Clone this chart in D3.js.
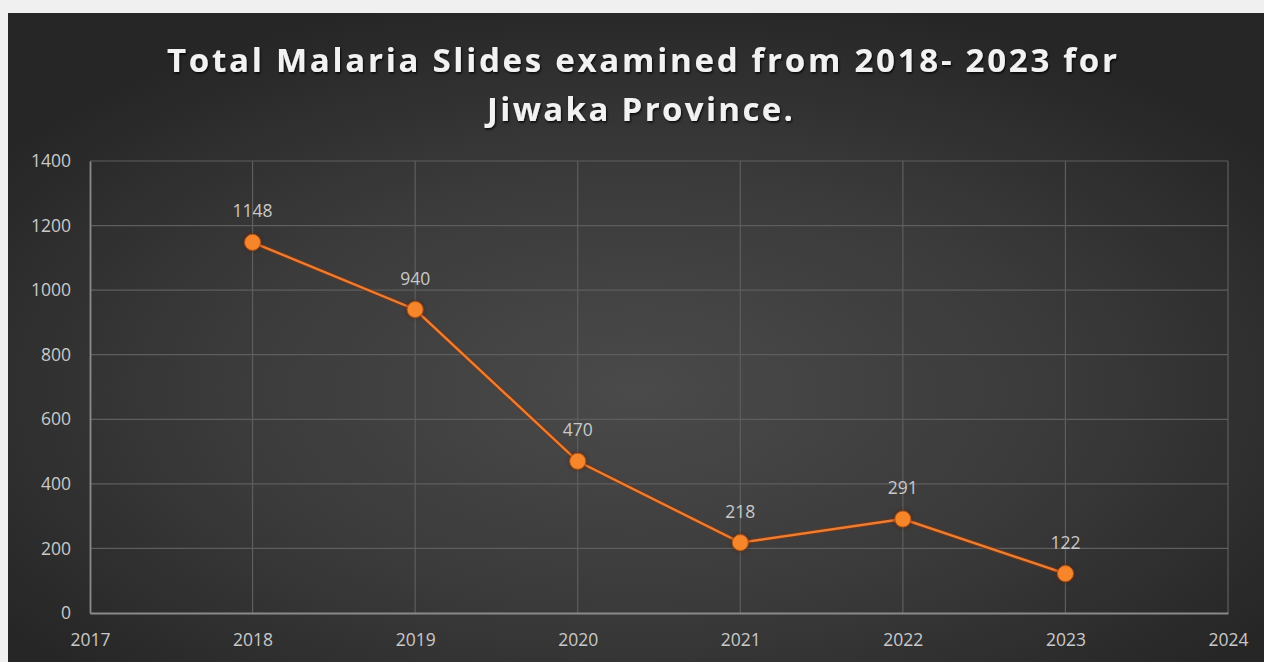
<!DOCTYPE html>
<html>
<head>
<meta charset="utf-8">
<script src="https://cdn.jsdelivr.net/npm/d3@7"></script>
<style>
  html, body { margin: 0; padding: 0; background: #f0f0f0; overflow: hidden; }
  svg { display: block; }
</style>
</head>
<body>
<svg id="chart" width="1264" height="662"></svg>
<script>
// Malaria slides examined per year, Jiwaka Province
const years = [2018, 2019, 2020, 2021, 2022, 2023];
const slides = [1148, 940, 470, 218, 291, 122];
const xTicks = [2017, 2018, 2019, 2020, 2021, 2022, 2023, 2024];
const yTicks = [0, 200, 400, 600, 800, 1000, 1200, 1400];
const titleLines = ["Total Malaria Slides examined from 2018- 2023 for", "Jiwaka Province."];

const W = 1264, H = 662;
const svg = d3.select("#chart");
const defs = svg.append("defs");

// dark panel with soft radial lighting
const grad = defs.append("radialGradient")
  .attr("id", "panelGrad")
  .attr("cx", "50%").attr("cy", "58%").attr("r", "62%");
grad.append("stop").attr("offset", "0%").attr("stop-color", "#4a4a4a");
grad.append("stop").attr("offset", "55%").attr("stop-color", "#3a3a3a");
grad.append("stop").attr("offset", "100%").attr("stop-color", "#262626");

const shadow = defs.append("filter").attr("id", "txtShadow")
  .attr("x", "-5%").attr("y", "-20%").attr("width", "110%").attr("height", "150%");
shadow.append("feDropShadow").attr("dx", 1).attr("dy", 1.5)
  .attr("stdDeviation", 1.2).attr("flood-color", "#000").attr("flood-opacity", 0.85);

const glow = defs.append("filter").attr("id", "dotGlow")
  .attr("x", "-60%").attr("y", "-60%").attr("width", "220%").attr("height", "220%");
glow.append("feDropShadow").attr("dx", 0).attr("dy", 0)
  .attr("stdDeviation", 2).attr("flood-color", "#5a1e00").attr("flood-opacity", 0.9);

svg.append("rect").attr("x", 0).attr("y", 0).attr("width", W).attr("height", H).attr("fill", "#f0f0f0");
svg.append("rect").attr("x", 8).attr("y", 13).attr("width", W - 8).attr("height", H - 13)
  .attr("fill", "url(#panelGrad)");

// title
const title = svg.append("g").attr("filter", "url(#txtShadow)");
title.append("text")
  .attr("x", 642).attr("y", 72)
  .attr("text-anchor", "middle")
  .attr("font-family", "'Open Sans', sans-serif")
  .attr("font-weight", 700).attr("font-size", 33)
  .attr("fill", "#f2f2f2")
  .attr("textLength", 950).attr("lengthAdjust", "spacing")
  .text(titleLines[0]);
title.append("text")
  .attr("x", 640).attr("y", 121)
  .attr("text-anchor", "middle")
  .attr("font-family", "'Open Sans', sans-serif")
  .attr("font-weight", 700).attr("font-size", 33)
  .attr("fill", "#f2f2f2")
  .attr("textLength", 306).attr("lengthAdjust", "spacing")
  .text(titleLines[1]);

// plot area
const plotL = 90, plotR = 1228, plotT = 161, plotB = 613;
const x = d3.scaleLinear().domain([2017, 2024]).range([plotL, plotR]);
const y = d3.scaleLinear().domain([0, 1400]).range([plotB, plotT]);

// gridlines
const grid = svg.append("g");
grid.selectAll("line.h").data(yTicks.filter(d => d > 0)).join("line")
  .attr("class", "h")
  .attr("x1", plotL).attr("x2", plotR)
  .attr("y1", d => y(d)).attr("y2", d => y(d))
  .attr("stroke", "#5e5e5e").attr("stroke-width", 1.2);
grid.selectAll("line.v").data(xTicks.filter(d => d > 2017)).join("line")
  .attr("class", "v")
  .attr("x1", d => x(d)).attr("x2", d => x(d))
  .attr("y1", plotT).attr("y2", plotB)
  .attr("stroke", "#5e5e5e").attr("stroke-width", 1.2);

// axes
const yAxis = svg.append("g").attr("transform", `translate(${plotL},0)`)
  .call(d3.axisLeft(y).tickValues(yTicks).tickSize(0).tickPadding(19).tickFormat(d3.format("d")));
const xAxis = svg.append("g").attr("transform", `translate(0,${plotB})`)
  .call(d3.axisBottom(x).tickValues(xTicks).tickSize(0).tickPadding(21).tickFormat(d3.format("d")));
[xAxis, yAxis].forEach(g => {
  g.select(".domain").attr("stroke", "#8a8a8a").attr("stroke-width", 1.8);
  g.selectAll("text")
    .attr("font-family", "'Open Sans', sans-serif")
    .attr("font-size", 17.5)
    .attr("fill", "#c9c9c9");
});

// series line
const data = years.map((yr, i) => ({ year: yr, value: slides[i] }));
const line = d3.line().x(d => x(d.year)).y(d => y(d.value));
svg.append("path").datum(data)
  .attr("d", line)
  .attr("fill", "none")
  .attr("stroke", "#7a3310").attr("stroke-width", 5).attr("stroke-opacity", 0.6);
svg.append("path").datum(data)
  .attr("d", line)
  .attr("fill", "none")
  .attr("stroke", "#ed7d31").attr("stroke-width", 2.4);

// markers
svg.append("g").selectAll("circle").data(data).join("circle")
  .attr("cx", d => x(d.year)).attr("cy", d => y(d.value))
  .attr("r", 8)
  .attr("fill", "#f7862c")
  .attr("stroke", "#b5561a").attr("stroke-width", 1)
  .attr("filter", "url(#dotGlow)");

// value labels
svg.append("g").selectAll("text").data(data).join("text")
  .attr("x", d => x(d.year)).attr("y", d => y(d.value) - 25)
  .attr("text-anchor", "middle")
  .attr("font-family", "'Open Sans', sans-serif")
  .attr("font-size", 17.5)
  .attr("fill", "#c9c9c9")
  .text(d => d.value);
</script>
</body>
</html>
